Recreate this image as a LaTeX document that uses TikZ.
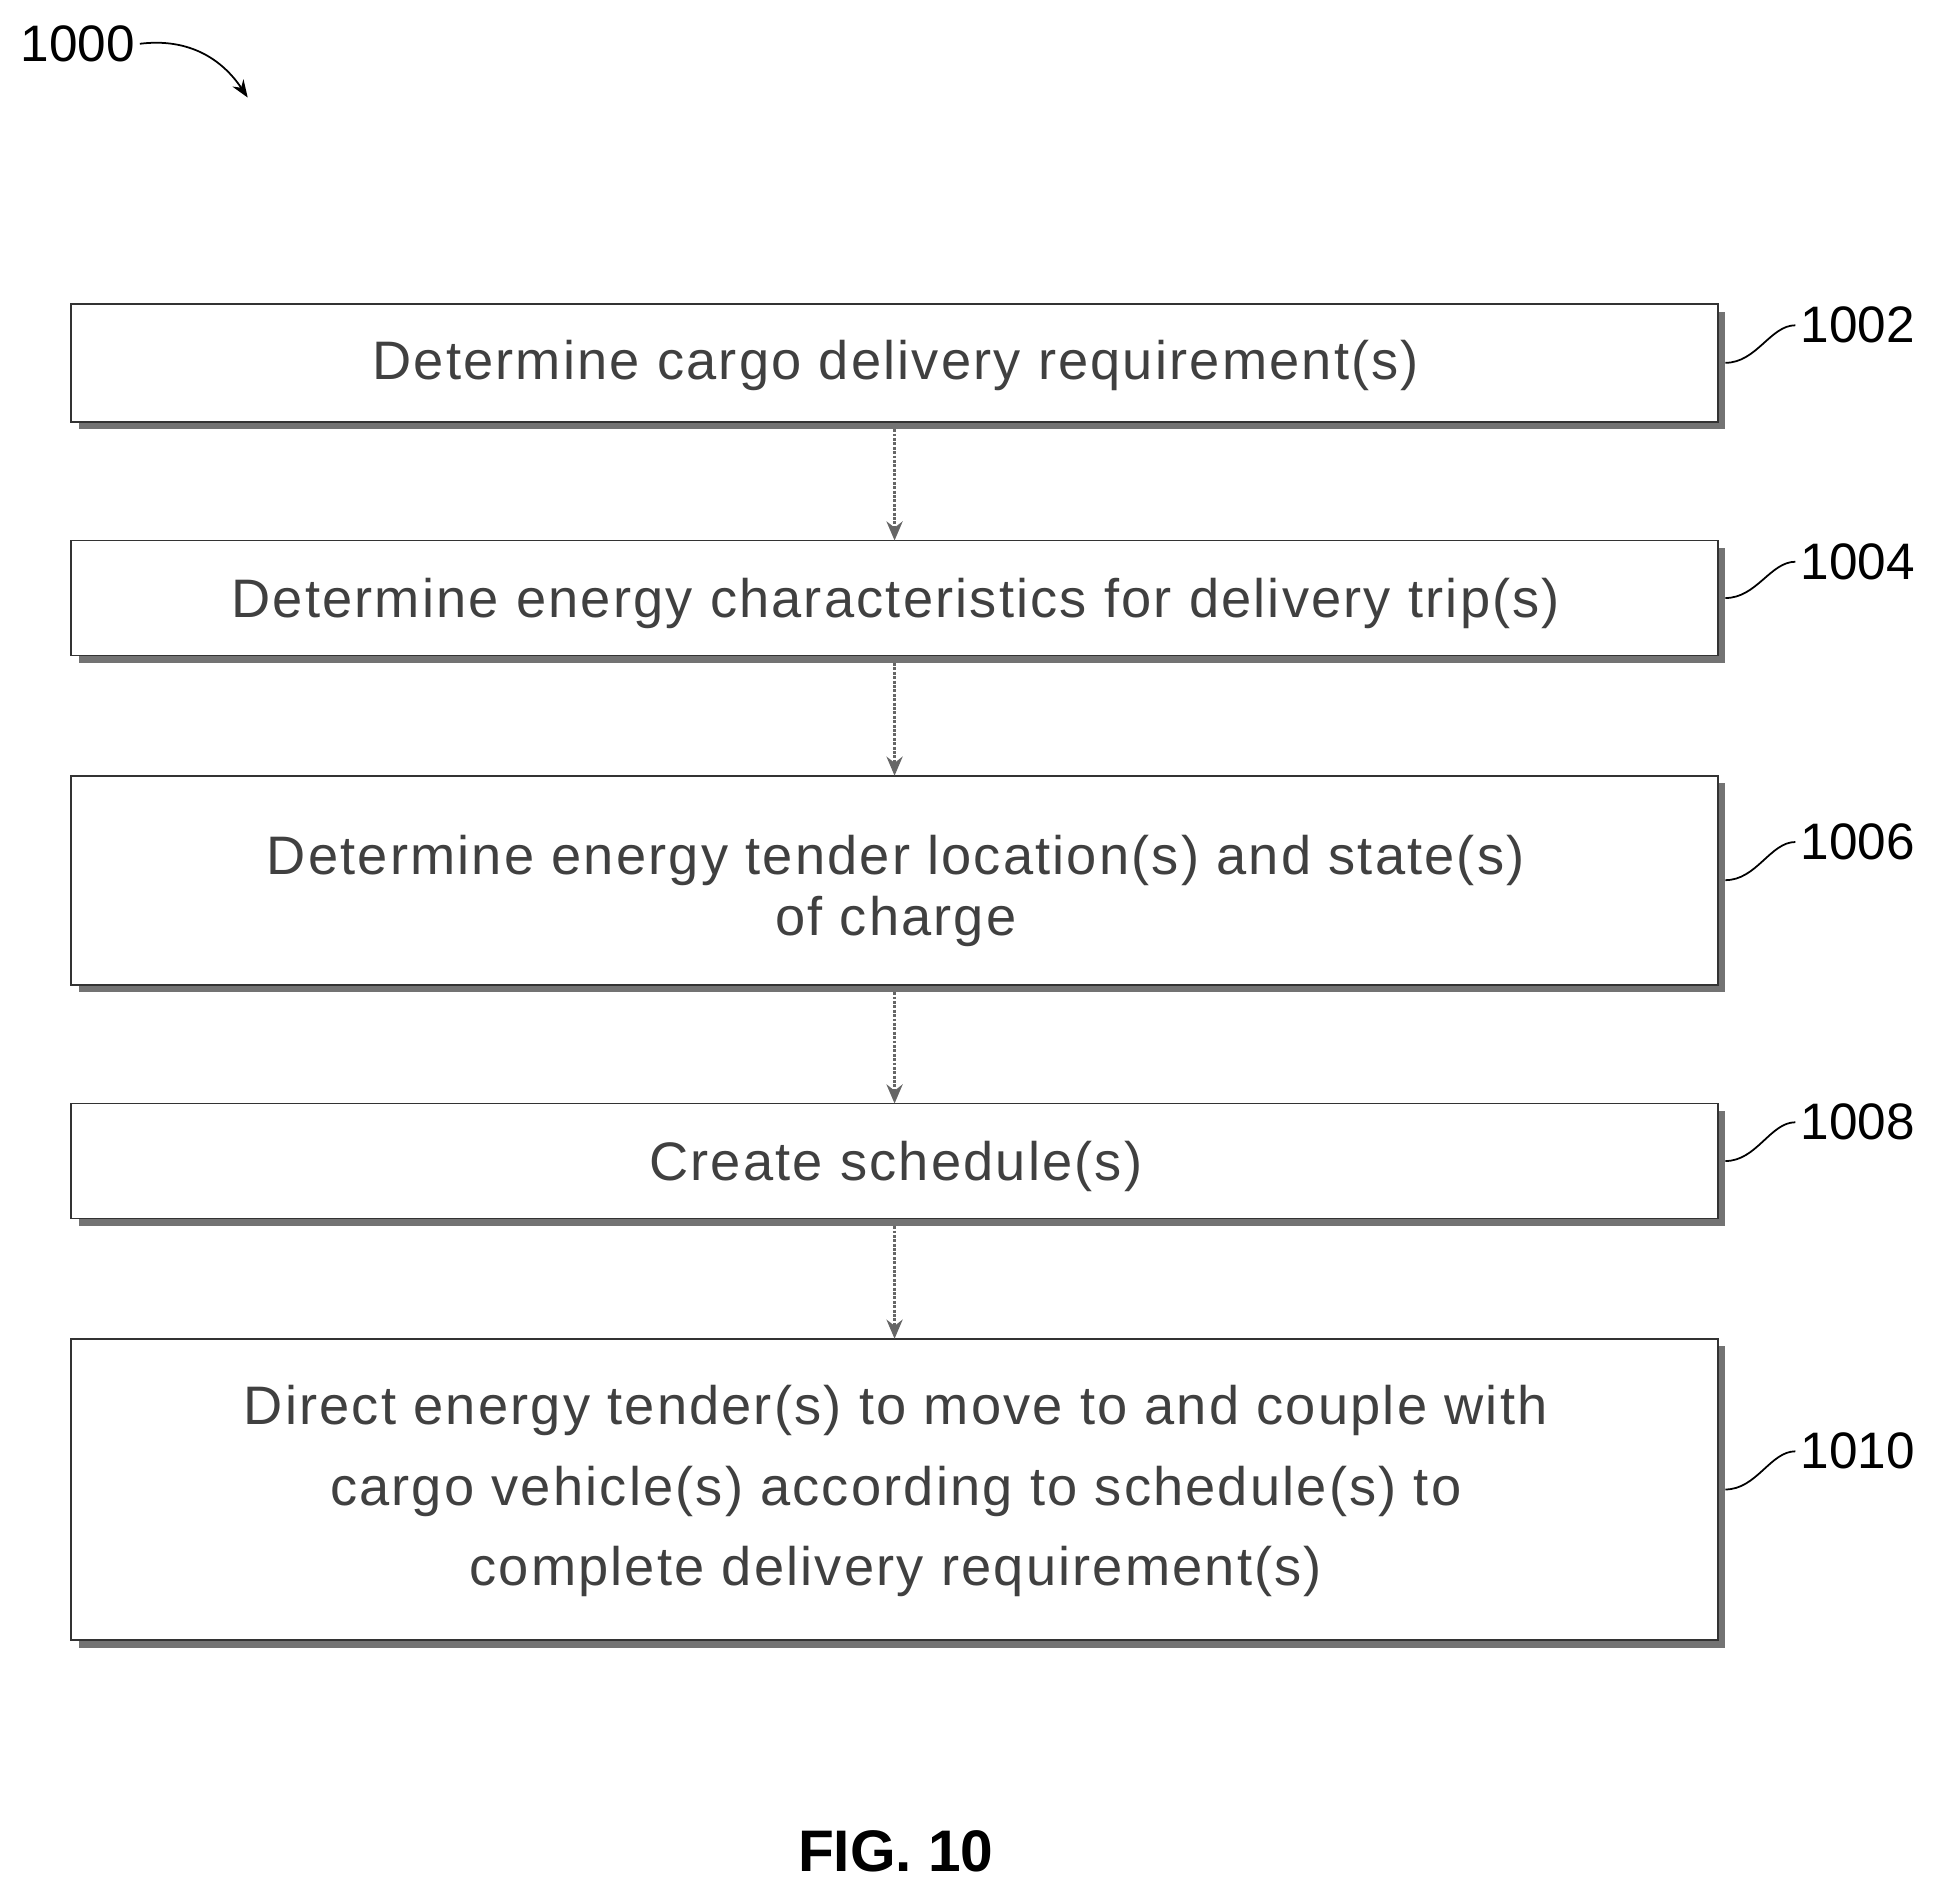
\documentclass[tikz,border=0pt]{standalone}
\usepackage{fontspec}
\setmainfont{Liberation Sans}
\newfontfamily\spaced[LetterSpace=4]{Liberation Sans}
\usetikzlibrary{arrows.meta}
\begin{document}
\begin{tikzpicture}[x=0.3mm,y=-0.3mm,
  box/.style={draw=black!80,line width=1.2pt,fill=white},
  shad/.style={fill=black!55},
  lbl/.style={font=\spaced\fontsize{37}{42}\selectfont,text=black!75},
  num/.style={font=\fontsize{35}{40}\selectfont,anchor=west},
  arr/.style={draw=black!60,line width=2pt,densely dotted,-{Stealth[length=13pt,width=11pt]}},
  lead/.style={line width=1.2pt}]
\useasboundingbox (0,0) rectangle (1557,1507);
\newcommand{\mybox}[5]{%
  \fill[shad] (#1+6,#2+6) rectangle (#3+6,#4+6);
  \draw[box] (#1,#2) rectangle (#3,#4);
  \node (#5) at ({(#1+#3)/2},{(#2+#4)/2}) {};
  \coordinate (#5r) at (#3+6,{(#2+#4)/2});
  \coordinate (#5t) at ({(#1+#3)/2},#2);
  \coordinate (#5b) at ({(#1+#3)/2},#4+6);}
\mybox{57}{243}{1373}{337}{b1}
\mybox{57}{432}{1373}{524}{b2}
\mybox{57}{620}{1373}{787}{b3}
\mybox{57}{882}{1373}{974}{b4}
\mybox{57}{1070}{1373}{1311}{b5}
\node[lbl] at (716,292) {Determine cargo delivery requirement(s)};
\node[lbl] at (716,482) {Determine energy characteristics for delivery trip(s)};
\node[lbl,align=center,font=\spaced\fontsize{37}{42}\selectfont] at (716,712) {Determine energy tender location(s) and state(s)\\of charge};
\node[lbl] at (716,932) {Create schedule(s)};
\node[lbl,align=center,font=\spaced\fontsize{37}{55}\selectfont] at (716,1192) {Direct energy tender(s) to move to and couple with\\cargo vehicle(s) according to schedule(s) to\\complete delivery requirement(s)};
\draw[arr] (b1b) -- (b2t);
\draw[arr] (b2b) -- (b3t);
\draw[arr] (b3b) -- (b4t);
\draw[arr] (b4b) -- (b5t);
\foreach \n/\y/\t in {b1/260/1002,b2/449/1004,b3/673/1006,b4/897/1008,b5/1160/1010}{
  \node[num] (l\t) at (1435,\y) {\t};
  \draw[lead] (\n r) .. controls +(25,0) and +(-20,0) .. (l\t.west);
}
\node[num,anchor=center] (l1000) at (62,35) {1000};
\coordinate (a1000) at (198,78);
\draw[lead,-{Stealth[length=12pt,width=9pt]}] (l1000.east) .. controls +(40,-5) and +(-20,-30) .. (a1000);
\node[font=\bfseries\fontsize{40}{48}\selectfont] (fig) at (716,1480) {FIG. 10};
\end{tikzpicture}
\end{document}
